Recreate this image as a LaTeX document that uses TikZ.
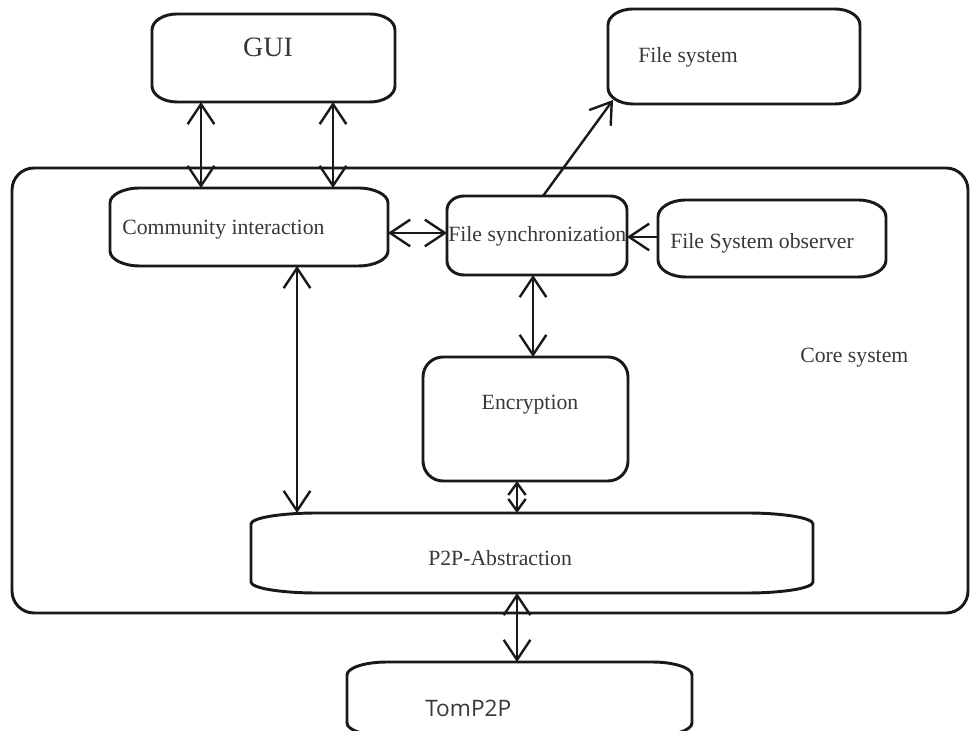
\documentclass[tikz,border=0pt]{standalone}
\usepackage{fontspec}
\setmainfont{Liberation Serif}
\newfontfamily\tomfont{Open Sans}
\usetikzlibrary{arrows.meta,calc,fit}
\newcommand\rrbox[3]{%
  \draw[boxline] ($(#1.north west)+(#2,0)$) -- ($(#1.north east)+(-#2,0)$)
    arc[start angle=90,end angle=0,x radius=#2,y radius=#3]
    -- ($(#1.south east)+(0,#3)$)
    arc[start angle=0,end angle=-90,x radius=#2,y radius=#3]
    -- ($(#1.south west)+(#2,0)$)
    arc[start angle=270,end angle=180,x radius=#2,y radius=#3]
    -- ($(#1.north west)+(0,-#3)$)
    arc[start angle=180,end angle=90,x radius=#2,y radius=#3] -- cycle;}
\begin{document}
\begin{tikzpicture}[x=0.75pt,y=0.75pt,
  boxline/.style={line width=2.2pt, draw=black!90},
  area/.style={inner sep=0pt, outer sep=0pt},
  lbl/.style={inner sep=0pt, text=black!78, font=\fontsize{16.3}{19}\selectfont},
  dbl/.style={line width=1.8pt, draw=black!90, {Straight Barb[length=15pt,width=20pt]}-{Straight Barb[length=15pt,width=20pt]}},
  dblsmall/.style={line width=1.8pt, draw=black!90, {Straight Barb[length=9pt,width=13pt]}-{Straight Barb[length=9pt,width=13pt]}},
  sgl/.style={line width=1.8pt, draw=black!90, -{Straight Barb[length=15pt,width=20pt]}},
]
\useasboundingbox (0,0) rectangle (970,731);
\clip (0,0) rectangle (970,731);
\fill[white] (0,0) rectangle (970,731);

% box areas
\node[area, fit={(152,629) (395,717)}] (gui) {};
\node[area, fit={(608,627) (860,722)}] (fs) {};
\node[area, fit={(12,118) (968,563)}] (core) {};
\node[area, fit={(110,465) (388,543)}] (comm) {};
\node[area, fit={(447,456) (627,535)}] (fsync) {};
\node[area, fit={(658,454) (886,531)}] (obs) {};
\node[area, fit={(423,250) (628,374)}] (enc) {};
\node[area, fit={(251,138) (813,218)}] (p2p) {};
\node[area, fit={(347,-5) (692,69)}] (tom) {};

% outlines
\rrbox{gui}{25}{16}
\rrbox{fs}{25}{16}
\rrbox{core}{22}{22}
\rrbox{comm}{30}{15}
\rrbox{fsync}{17}{14}
\rrbox{obs}{28}{17}
\rrbox{enc}{20}{20}
\rrbox{p2p}{66}{11}
\rrbox{tom}{40}{13}

% labels
\node[lbl, font=\fontsize{21}{24}\selectfont] (guit) at (268,684) {GUI};
\node[lbl, anchor=west] (fst) at (638,674) {File system};
\node[lbl, anchor=west] (coret) at (800,373) {Core system};
\node[lbl, anchor=west] (commt) at (122,501) {Community interaction};
\node[lbl, anchor=west] (fsynct) at (448,495) {File synchronization};
\node[lbl, anchor=west] (obst) at (670,488) {File System observer};
\node[lbl] (enct) at (530,326) {Encryption};
\node[lbl, anchor=west] (p2pt) at (428,173) {P2P-Abstraction};
\node[lbl, anchor=west, font=\tomfont\fontsize{17}{20}\selectfont] (tomt) at (425,23) {TomP2P};

% helper coordinates
\coordinate (xa) at (201,0);
\coordinate (xb) at (333,0);
\coordinate (xc) at (297,0);
\coordinate (xd) at (533,0);
\coordinate (xe) at (517,0);
\coordinate (xf) at (543,0);
\coordinate (ya) at (0,498);
\coordinate (yb) at (0,494);

% connectors
\draw[dbl] (gui.south -| xa) -- (comm.north -| xa);
\draw[dbl] (gui.south -| xb) -- (comm.north -| xb);
\draw[dbl] (comm.east |- ya) -- (fsync.west |- ya);
\draw[sgl] (obs.west |- yb) -- (fsync.east |- yb);
\draw[sgl] (fsync.north -| xf) -- ($(fs.south west)+(5,4)$);
\draw[dbl] (fsync.south -| xd) -- (enc.north -| xd);
\draw[dbl] (comm.south -| xc) -- (p2p.north -| xc);
\draw[dblsmall] (enc.south -| xe) -- (p2p.north -| xe);
\draw[dbl] (p2p.south -| xe) -- (tom.north -| xe);
\end{tikzpicture}
\end{document}
